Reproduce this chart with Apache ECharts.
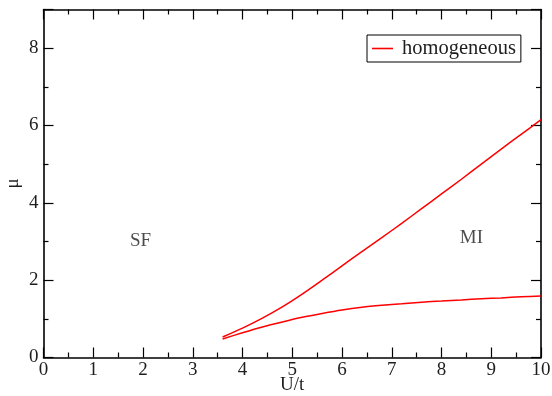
<!DOCTYPE html>
<html><head><meta charset="utf-8">
<script src="https://cdn.jsdelivr.net/npm/echarts@6/dist/echarts.min.js"></script>
<style>html,body{margin:0;padding:0;background:#fff}#c{width:552px;height:396px}</style>
</head><body><div id="c"></div>
<script>
const upperX = [3.6, 4.0, 4.4, 4.8, 5.2, 5.6, 6.0, 6.4, 6.8, 7.2, 7.6, 8.0, 8.4, 8.8, 9.2, 9.6, 10.0];
const upperY = [0.53, 0.76, 1.02, 1.31, 1.64, 2.00, 2.37, 2.74, 3.10, 3.47, 3.85, 4.23, 4.61, 5.00, 5.39, 5.77, 6.15];
const lowerX = [3.6, 4.0, 4.4, 4.8, 5.2, 5.6, 6.0, 6.4, 6.8, 7.2, 7.6, 8.0, 8.4, 8.8, 9.2, 9.6, 10.0];
const lowerY = [0.48, 0.64, 0.79, 0.92, 1.04, 1.14, 1.23, 1.30, 1.35, 1.39, 1.43, 1.46, 1.49, 1.52, 1.54, 1.57, 1.59];
const seriesName = 'homogeneous';
const regionLabels = [{text: 'SF', x: 1.95, y: 3.0}, {text: 'MI', x: 8.6, y: 3.1}];

const font = 'Liberation Serif, Times New Roman, serif';
const chart = echarts.init(document.getElementById('c'), null, {renderer: 'canvas'});
const tickStyle = {color: '#000', width: 1.2};
function mk(xs, ys){ return xs.map((x,i)=>[x, ys[i]]); }
const baseAxisLine = {show: true, onZero: false, lineStyle: {color: '#000', width: 1.6}};
const yFmt = v => (v % 2 === 0 ? String(v) : '');
const txt = '#1e1e1e';
const opt = {
  animation: false,
  grid: {left: 43.5, top: 9.5, right: 11, bottom: 38.5, containLabel: false, outerBoundsMode: 'none'},
  legend: {
    data: [seriesName],
    left: 367, top: 35,
    borderColor: '#000', borderWidth: 1,
    padding: [3, 5, 3, 5],
    icon: 'rect', itemWidth: 21, itemHeight: 1.6,
    textStyle: {fontFamily: font, fontSize: 20.5, color: txt, padding: [0, 0, 0, 4]}
  },
  xAxis: [{
    type: 'value', min: 0, max: 10, interval: 1,
    name: 'U/t', nameLocation: 'middle', nameGap: 18, nameMoveOverlap: false,
    nameTextStyle: {fontFamily: font, fontSize: 19, color: txt},
    axisLine: baseAxisLine,
    axisTick: {inside: true, length: 10, lineStyle: tickStyle},
    minorTick: {show: true, splitNumber: 2, length: 5, lineStyle: tickStyle},
    axisLabel: {fontFamily: font, fontSize: 19, color: txt, margin: 3},
    splitLine: {show: false}
  }, {
    type: 'value', min: 0, max: 10, interval: 1, position: 'top',
    axisLine: baseAxisLine,
    axisTick: {inside: true, length: 10, lineStyle: tickStyle},
    minorTick: {show: true, splitNumber: 2, length: 5, lineStyle: tickStyle},
    axisLabel: {show: false}, splitLine: {show: false}
  }],
  yAxis: [{
    type: 'value', min: 0, max: 9, interval: 2,
    name: 'μ', nameLocation: 'middle', nameGap: 21, nameRotate: 90, nameMoveOverlap: false,
    nameTextStyle: {fontFamily: font, fontSize: 19, color: txt},
    axisLine: baseAxisLine,
    axisTick: {inside: true, length: 10, lineStyle: tickStyle},
    minorTick: {show: true, splitNumber: 2, length: 5, lineStyle: tickStyle},
    axisLabel: {fontFamily: font, fontSize: 19, color: txt, margin: 5, formatter: yFmt, showMaxLabel: false},
    splitLine: {show: false}
  }, {
    type: 'value', min: 0, max: 9, interval: 2, position: 'right',
    axisLine: baseAxisLine,
    axisTick: {inside: true, length: 10, lineStyle: tickStyle},
    minorTick: {show: true, splitNumber: 2, length: 5, lineStyle: tickStyle},
    axisLabel: {show: false}, splitLine: {show: false}
  }],
  series: [
    {name: seriesName, type: 'line', data: mk(upperX, upperY), smooth: 0.3, showSymbol: false,
     color: '#ff0000', lineStyle: {color: '#ff0000', width: 1.5}},
    {name: seriesName, type: 'line', data: mk(lowerX, lowerY), smooth: 0.3, showSymbol: false,
     color: '#ff0000', lineStyle: {color: '#ff0000', width: 1.5}},
    {type: 'scatter', data: regionLabels.map(l => ({value: [l.x, l.y], name: l.text})),
     symbolSize: 0, silent: true,
     label: {show: true, position: 'inside', formatter: p => p.name,
       fontFamily: font, fontSize: 19, color: txt}}
  ]
};
chart.setOption(opt);
</script></body></html>
